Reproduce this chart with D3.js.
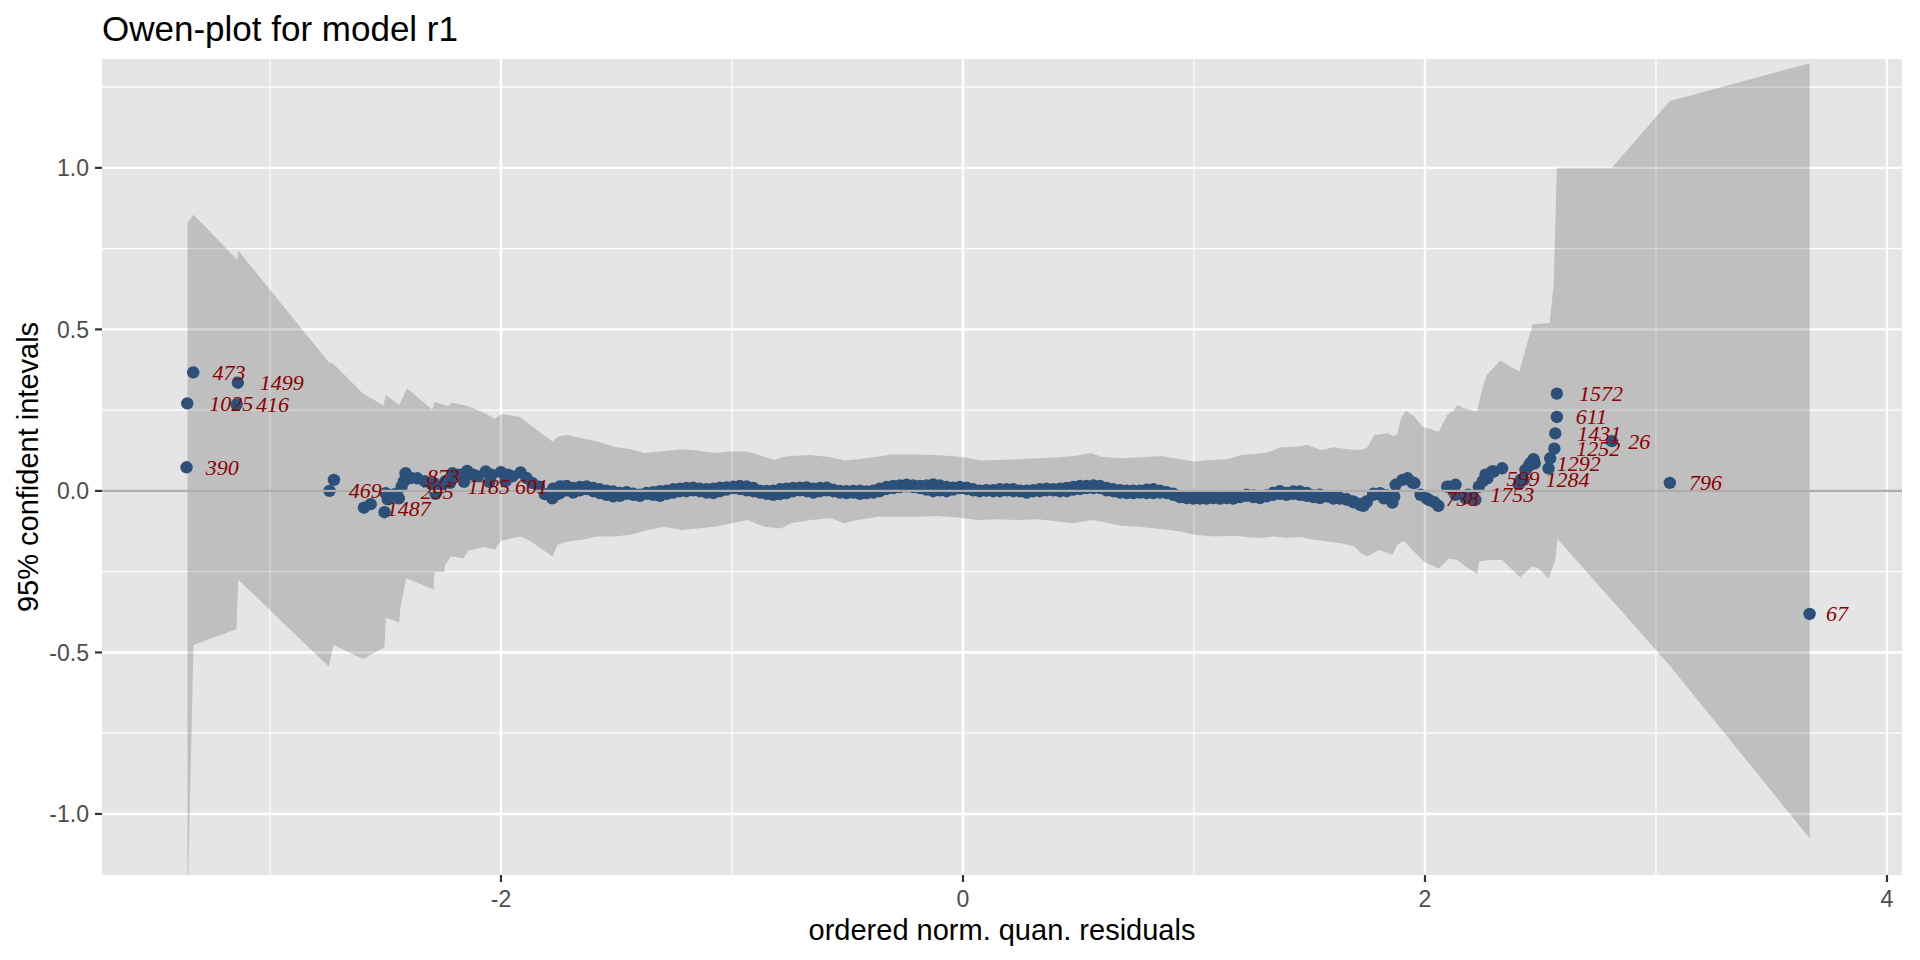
<!DOCTYPE html>
<html><head><meta charset="utf-8">
<script src="https://cdn.jsdelivr.net/npm/d3@7"></script>
<style>body{margin:0;background:#fff}</style>
</head><body>
<svg id="c" width="1920" height="960"></svg>
<script>
// ---------- data ----------
const titleText = "Owen-plot for model r1";
const xTitle = "ordered norm. quan. residuals";
const yTitle = "95% confident intevals";
const xTicks = [-2, 0, 2, 4];
const xMinor = [-3, -1, 1, 3];
const yTicks = [-1.0, -0.5, 0.0, 0.5, 1.0];
const yMinor = [-0.75, -0.25, 0.25, 0.75, 1.25];

// confidence band (upper edge)
const ribUpX = [-3.357,-3.331,-3.141,-3.137,-2.745,-2.728,-2.601,-2.508,-2.499,-2.44,-2.407,-2.297,-2.288,-2.227,-2.213,-2.145,-2.083,-2.026,-2.0,-1.918,-1.839,-1.777,-1.755,-1.712,-1.654,-1.582,-1.51,-1.438,-1.38,-1.308,-1.22,-1.149,-1.077,-1.019,-0.933,-0.86,-0.817,-0.788,-0.745,-0.658,-0.572,-0.514,-0.456,-0.37,-0.312,-0.211,-0.124,-0.052,0.005,0.077,0.15,0.236,0.323,0.409,0.482,0.554,0.597,0.684,0.77,0.857,0.943,1.001,1.059,1.145,1.203,1.261,1.319,1.376,1.434,1.492,1.55,1.607,1.665,1.723,1.751,1.78,1.838,1.867,1.881,1.896,1.917,1.954,1.989,2.06,2.096,2.125,2.139,2.168,2.225,2.254,2.268,2.326,2.409,2.43,2.466,2.54,2.557,2.564,2.571,2.809,3.06,3.665];
const ribUpY = [0.829,0.855,0.716,0.744,0.398,0.395,0.304,0.264,0.298,0.266,0.318,0.251,0.276,0.262,0.274,0.263,0.245,0.223,0.238,0.229,0.186,0.153,0.168,0.174,0.164,0.153,0.137,0.129,0.117,0.122,0.129,0.125,0.117,0.122,0.122,0.106,0.096,0.104,0.108,0.111,0.104,0.094,0.098,0.106,0.113,0.113,0.111,0.108,0.104,0.094,0.096,0.098,0.101,0.104,0.108,0.117,0.106,0.101,0.104,0.108,0.098,0.091,0.096,0.098,0.111,0.114,0.119,0.135,0.137,0.142,0.127,0.135,0.129,0.127,0.135,0.173,0.178,0.170,0.178,0.225,0.248,0.230,0.199,0.183,0.235,0.250,0.266,0.256,0.246,0.333,0.359,0.404,0.370,0.425,0.516,0.52,0.64,0.82,1.0,1.0,1.207,1.324];
// confidence band (lower edge)
const ribLoX = [-3.357,-3.331,-3.145,-3.137,-2.745,-2.724,-2.597,-2.504,-2.498,-2.44,-2.436,-2.41,-2.292,-2.288,-2.245,-2.242,-2.216,-2.163,-2.141,-2.076,-2.026,-2.0,-1.914,-1.87,-1.777,-1.755,-1.712,-1.654,-1.582,-1.51,-1.438,-1.366,-1.293,-1.22,-1.149,-1.077,-1.005,-0.933,-0.86,-0.788,-0.745,-0.658,-0.572,-0.514,-0.456,-0.37,-0.283,-0.197,-0.11,-0.024,0.063,0.15,0.236,0.323,0.409,0.482,0.554,0.597,0.684,0.77,0.857,0.943,1.001,1.088,1.174,1.232,1.29,1.347,1.405,1.463,1.521,1.578,1.636,1.694,1.723,1.751,1.801,1.859,1.88,1.909,1.945,1.996,2.06,2.104,2.14,2.176,2.226,2.234,2.276,2.334,2.363,2.413,2.463,2.49,2.535,2.564,2.574,3.06,3.665];
const ribLoY = [-1.30,-0.477,-0.428,-0.275,-0.544,-0.477,-0.52,-0.484,-0.393,-0.407,-0.364,-0.27,-0.305,-0.251,-0.251,-0.230,-0.202,-0.209,-0.185,-0.174,-0.181,-0.155,-0.141,-0.157,-0.203,-0.167,-0.157,-0.152,-0.141,-0.141,-0.136,-0.121,-0.111,-0.121,-0.116,-0.111,-0.101,-0.090,-0.111,-0.116,-0.100,-0.090,-0.085,-0.100,-0.090,-0.080,-0.080,-0.080,-0.078,-0.082,-0.090,-0.088,-0.090,-0.088,-0.095,-0.100,-0.090,-0.095,-0.108,-0.112,-0.118,-0.126,-0.136,-0.141,-0.139,-0.143,-0.146,-0.141,-0.146,-0.143,-0.152,-0.157,-0.162,-0.172,-0.193,-0.203,-0.183,-0.198,-0.167,-0.155,-0.183,-0.219,-0.24,-0.209,-0.214,-0.234,-0.257,-0.219,-0.214,-0.214,-0.234,-0.268,-0.234,-0.239,-0.271,-0.214,-0.149,-0.541,-1.075];

// residual points, left tail / cluster
const leftX = [-3.332,-3.139,-3.358,-3.144,-3.361,-2.742,-2.723,-2.593,-2.564,-2.504,-2.499,-2.49,-2.46,-2.442,-2.43,-2.42,-2.413,-2.39,-2.362,-2.33,-2.30,-2.283,-2.26,-2.24,-2.21,-2.18,-2.146,-2.12,-2.10,-2.066,-2.04,-2.0,-1.97,-1.95,-1.915,-1.89,-1.865,-1.835,-1.81,-1.778,-1.755,-1.734,-2.29,-2.22,-2.05,-1.98,-2.16];
const leftY = [0.367,0.335,0.271,0.268,0.073,0.0,0.034,-0.052,-0.041,-0.066,-0.007,-0.026,-0.010,-0.023,0.013,0.030,0.055,0.040,0.039,0.030,0.020,-0.009,0.010,0.030,0.055,0.050,0.062,0.050,0.045,0.060,0.050,0.058,0.050,0.045,0.057,0.040,0.025,0.013,-0.010,-0.023,-0.010,0.013,0.024,0.025,0.028,0.030,0.028];

// residual points, central dense band (upper and lower rows)
const bandX  = [-1.774,-1.745,-1.716,-1.687,-1.658,-1.629,-1.601,-1.572,-1.543,-1.514,-1.485,-1.456,-1.427,-1.399,-1.370,-1.341,-1.312,-1.283,-1.254,-1.225,-1.197,-1.168,-1.139,-1.110,-1.081,-1.052,-1.023,-0.994,-0.966,-0.937,-0.908,-0.879,-0.850,-0.821,-0.792,-0.764,-0.735,-0.706,-0.677,-0.648,-0.619,-0.590,-0.562,-0.533,-0.504,-0.475,-0.446,-0.417,-0.388,-0.360,-0.331,-0.302,-0.273,-0.244,-0.215,-0.186,-0.158,-0.129,-0.100,-0.071,-0.042,-0.013,0.016,0.044,0.073,
  0.102,0.131,0.160,0.189,0.218,0.247,0.276,0.304,0.333,0.362,0.391,0.420,0.449,0.478,0.507,0.535,0.564,0.593,0.622,0.651,0.680,0.709,0.737,0.766,0.795,0.824,0.853,0.882,0.911,0.939,0.968,0.997,1.026,1.055,1.084,1.113,1.141,1.170,1.199,1.228,1.257,1.286,1.315,1.343,1.372,1.401,1.430,1.459,1.488,1.517,1.545,1.574,1.603,1.632,1.661,1.690,1.719,1.733,1.747,1.776,1.805,1.834];
const bandHi = [0.007,0.014,0.015,0.009,0.012,0.014,0.009,0.005,0.001,-0.002,-0.006,-0.004,-0.009,-0.012,-0.006,-0.004,-0.001,0.001,0.005,0.007,0.009,0.010,0.007,0.005,0.007,0.010,0.011,0.013,0.015,0.014,0.009,0.001,0.000,0.001,0.005,0.007,0.009,0.010,0.011,0.007,0.009,0.010,0.004,0.000,-0.001,0.000,0.001,-0.002,0.001,0.007,0.012,0.015,0.017,0.019,0.017,0.015,0.017,0.020,0.017,0.012,0.010,0.012,0.010,0.005,0.001,
  0.002,0.002,0.005,0.005,0.005,0.001,0.001,0.002,0.005,0.007,0.005,0.007,0.009,0.012,0.015,0.015,0.017,0.015,0.009,0.005,0.002,0.001,0.001,0.001,0.004,0.005,0.001,-0.004,-0.009,-0.019,-0.022,-0.024,-0.024,-0.024,-0.022,-0.024,-0.022,-0.024,-0.019,-0.012,-0.014,-0.016,-0.014,-0.006,-0.001,-0.006,-0.002,-0.002,-0.006,-0.014,-0.012,-0.016,-0.024,-0.024,-0.026,-0.033,-0.040,-0.044,-0.035,-0.009,-0.011,-0.014];
const bandLo = [-0.017,-0.007,0.002,-0.005,0.002,0.006,-0.001,-0.007,-0.012,-0.017,-0.015,-0.009,-0.012,-0.015,-0.009,-0.012,-0.015,-0.009,-0.005,-0.001,-0.001,0.002,-0.001,-0.005,-0.007,-0.001,0.004,0.009,0.006,0.002,-0.001,-0.005,-0.009,-0.012,-0.010,-0.007,-0.001,0.002,-0.001,-0.005,-0.001,0.002,-0.001,-0.005,-0.007,-0.005,-0.009,-0.007,-0.005,-0.001,0.006,0.009,0.012,0.014,0.012,0.009,0.004,-0.001,0.002,-0.001,0.004,0.009,0.006,0.002,-0.001,
  0.001,-0.001,-0.001,0.002,-0.001,-0.001,-0.005,-0.001,-0.001,0.002,0.002,-0.001,-0.001,0.004,0.006,0.009,0.009,0.009,0.002,-0.001,-0.005,-0.007,-0.007,-0.005,-0.007,-0.007,-0.005,-0.007,-0.012,-0.017,-0.019,-0.022,-0.019,-0.022,-0.019,-0.022,-0.019,-0.022,-0.017,-0.015,-0.019,-0.022,-0.017,-0.012,-0.009,-0.012,-0.009,-0.012,-0.015,-0.019,-0.022,-0.017,-0.019,-0.022,-0.027,-0.035,-0.043,-0.046,-0.033,-0.012,-0.007,-0.015];

// residual points, right tail
const rightX = [1.823,1.859,1.867,1.873,1.903,1.925,1.946,1.954,1.981,2.007,2.017,2.04,2.058,2.096,2.104,2.132,2.132,2.176,2.187,2.212,2.218,2.233,2.25,2.262,2.27,2.29,2.298,2.334,2.406,2.415,2.427,2.435,2.449,2.456,2.47,2.475,2.535,2.542,2.56,2.564,2.571,2.571,2.809,3.06,3.665];
const rightY = [-0.023,-0.036,-0.018,0.019,0.034,0.039,0.026,0.024,-0.012,-0.023,-0.028,-0.035,-0.046,0.013,0.013,0.019,-0.012,-0.023,-0.012,-0.023,-0.028,0.013,0.030,0.050,0.039,0.060,0.060,0.070,0.020,0.035,0.034,0.065,0.077,0.086,0.098,0.085,0.070,0.101,0.131,0.178,0.229,0.301,0.154,0.025,-0.381];

// labelled observations
const labText = ["473","1499","1025","416","390","469","1487","295","873","1185","601","738","1753","599","1284","1292","1252","1431","611","1572","26","796","67"];
const labX = [-3.332,-3.139,-3.358,-3.144,-3.361,-2.742,-2.59,-2.43,-2.405,-2.238,-2.022,2.007,2.187,2.27,2.427,2.475,2.56,2.564,2.571,2.571,2.809,3.06,3.665];
const labY = [0.367,0.335,0.271,0.268,0.073,0.0,-0.055,-0.002,0.046,0.013,0.013,-0.023,-0.012,0.039,0.034,0.085,0.131,0.178,0.229,0.301,0.154,0.025,-0.381];

// ---------- layout ----------
const P = {l:102, r:1902, t:59, b:875};
const x = d3.scaleLinear().domain([-3.727, 4.065]).range([P.l, P.r]);
const y = d3.scaleLinear().domain([-1.189, 1.337]).range([P.b, P.t]);
const svg = d3.select("#c");
const ptCol = "#2C5079";

svg.append("defs").append("clipPath").attr("id","pc")
  .append("rect").attr("x",P.l).attr("y",P.t).attr("width",P.r-P.l).attr("height",P.b-P.t);

svg.append("rect").attr("x",P.l).attr("y",P.t).attr("width",P.r-P.l).attr("height",P.b-P.t).attr("fill","#E5E5E5");

const g = svg.append("g").attr("clip-path","url(#pc)");
// grid
g.selectAll(".ymin").data(yMinor).join("line").attr("x1",P.l).attr("x2",P.r)
  .attr("y1",d=>y(d)).attr("y2",d=>y(d)).attr("stroke","#fff").attr("stroke-width",1.2);
g.selectAll(".xmin").data(xMinor).join("line").attr("y1",P.t).attr("y2",P.b)
  .attr("x1",d=>x(d)).attr("x2",d=>x(d)).attr("stroke","#fff").attr("stroke-width",1.2);
g.selectAll(".ymaj").data(yTicks).join("line").attr("x1",P.l).attr("x2",P.r)
  .attr("y1",d=>y(d)).attr("y2",d=>y(d)).attr("stroke","#fff").attr("stroke-width",2.4);
g.selectAll(".xmaj").data(xTicks).join("line").attr("y1",P.t).attr("y2",P.b)
  .attr("x1",d=>x(d)).attr("x2",d=>x(d)).attr("stroke","#fff").attr("stroke-width",2.4);

// ribbon
const up = ribUpX.map((v,i)=>[v, ribUpY[i]]);
const lo = ribLoX.map((v,i)=>[v, ribLoY[i]]).reverse();
const poly = up.concat(lo);
g.append("path").attr("d", d3.line().x(d=>x(d[0])).y(d=>y(d[1]))(poly) + "Z")
  .attr("fill","#000").attr("fill-opacity",0.165);

// points
const pts = [];
leftX.forEach((v,i)=>pts.push([v,leftY[i]]));
bandX.forEach((v,i)=>{pts.push([v,bandHi[i]]); pts.push([v,bandLo[i]]);});
rightX.forEach((v,i)=>pts.push([v,rightY[i]]));
g.selectAll(".pt").data(pts).join("circle").attr("cx",d=>x(d[0])).attr("cy",d=>y(d[1]))
  .attr("r",6.2).attr("fill",ptCol);

// zero reference line
g.append("line").attr("x1",P.l).attr("x2",P.r).attr("y1",y(0)).attr("y2",y(0))
  .attr("stroke","#ADADAD").attr("stroke-width",2.2);

// labels
const lab = svg.append("g").attr("font-family","'Liberation Serif','Times New Roman',serif")
  .attr("font-style","italic").attr("font-size",22).attr("fill","#8B0000");
labText.forEach((t,i)=>{
  const el = lab.append("text").attr("x",x(labX[i])).attr("y",y(labY[i])).attr("dy","0.34em").text(t);
  const w = el.node().getComputedTextLength();
  el.attr("x", x(labX[i]) + 11 + 0.25*w);
});

// axes
const axG = svg.append("g").attr("font-family","'Liberation Sans',Arial,sans-serif");
axG.selectAll(".yt").data(yTicks).join("line").attr("x1",P.l-7).attr("x2",P.l)
  .attr("y1",d=>y(d)).attr("y2",d=>y(d)).attr("stroke","#333").attr("stroke-width",2.2);
axG.selectAll(".ytl").data(yTicks).join("text").attr("x",P.l-13).attr("y",d=>y(d)).attr("dy","0.36em")
  .attr("text-anchor","end").attr("font-size",23).attr("fill","#4D4D4D").text(d=>d3.format(".1f")(d).replace("−","-"));
axG.selectAll(".xt").data(xTicks).join("line").attr("y1",P.b).attr("y2",P.b+7)
  .attr("x1",d=>x(d)).attr("x2",d=>x(d)).attr("stroke","#333").attr("stroke-width",2.2);
axG.selectAll(".xtl").data(xTicks).join("text").attr("x",d=>x(d)).attr("y",P.b+32)
  .attr("text-anchor","middle").attr("font-size",23).attr("fill","#4D4D4D").text(d=>String(d));

axG.append("text").attr("x",(P.l+P.r)/2).attr("y",940).attr("text-anchor","middle")
  .attr("font-size",29).attr("fill","#000").text(xTitle);
axG.append("text").attr("transform",`translate(38,${(P.t+P.b)/2}) rotate(-90)`).attr("text-anchor","middle")
  .attr("font-size",29).attr("fill","#000").text(yTitle);
axG.append("text").attr("x",P.l).attr("y",41).attr("font-size",35).attr("fill","#000").text(titleText);
</script>
</body></html>
